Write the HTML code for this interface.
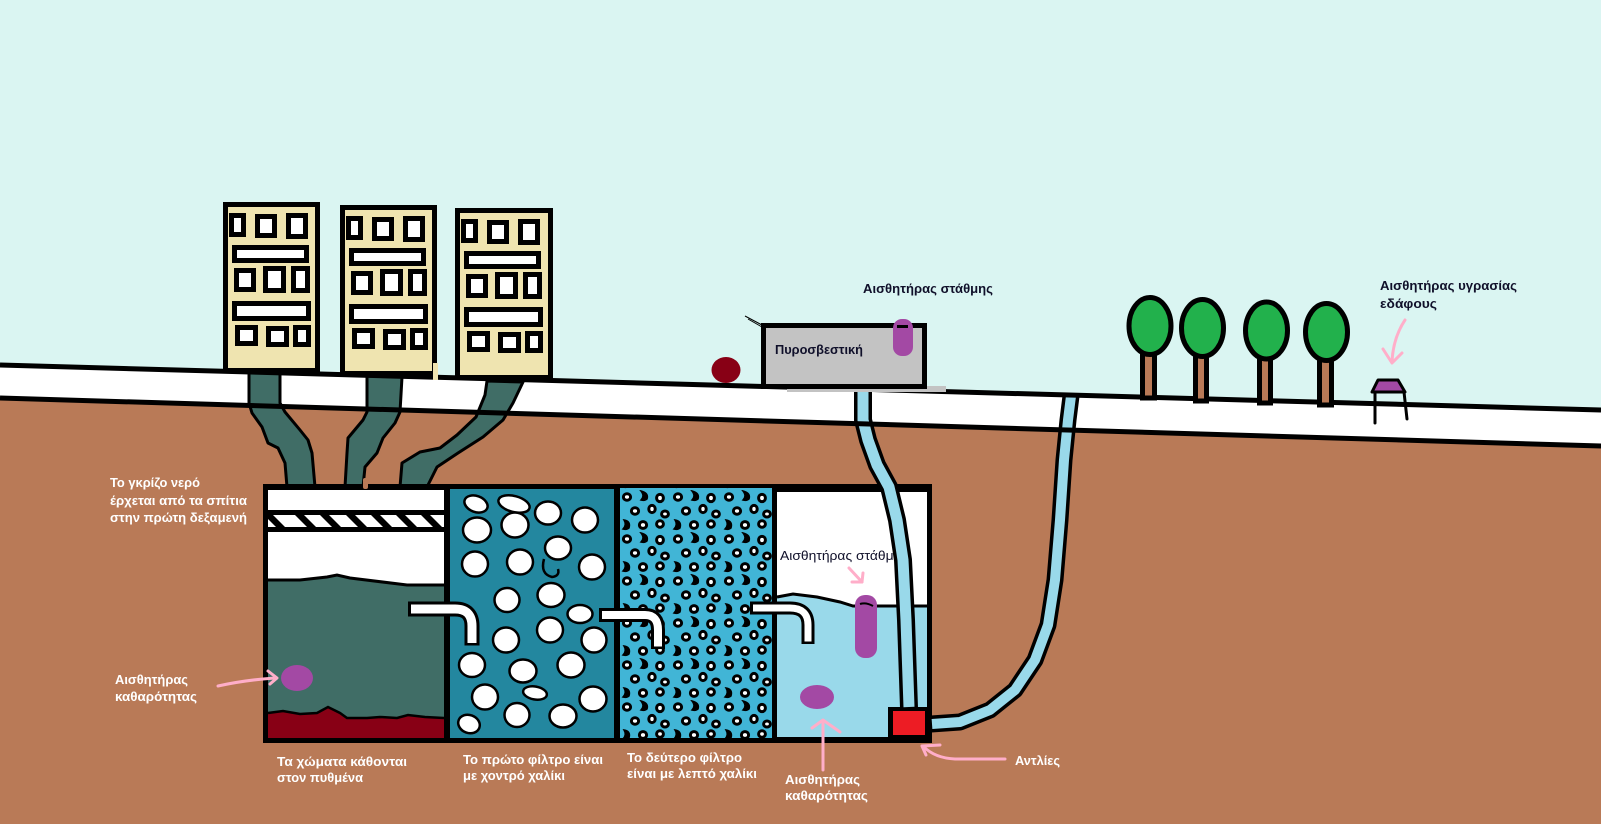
<!DOCTYPE html>
<html><head><meta charset="utf-8"><style>
html,body{margin:0;padding:0;background:#daf5f2;}
svg{display:block;}
text{font-family:"Liberation Sans","DejaVu Sans",sans-serif;font-size:13px;}
.w{fill:#ffffff;font-weight:bold;}
.k{fill:#10102a;font-weight:bold;}
.kn{fill:#10102a;}
</style></head><body>
<svg width="1601" height="824" viewBox="0 0 1601 824" xmlns="http://www.w3.org/2000/svg">
<defs>
<pattern id="fine" patternUnits="userSpaceOnUse" x="620" y="490" width="51" height="42">
  <g fill="#fff" stroke="#000" stroke-width="3">
    <ellipse cx="7" cy="7" rx="3.6" ry="3.2"/>
    <ellipse cx="40" cy="8" rx="3.4" ry="3.6"/>
    <ellipse cx="15" cy="21" rx="3.6" ry="3.2"/>
    <ellipse cx="32" cy="19" rx="3.2" ry="3.6"/>
    <ellipse cx="45" cy="24" rx="3.4" ry="3"/>
    <ellipse cx="23" cy="35" rx="3.6" ry="3.4"/>
    <ellipse cx="40" cy="34" rx="3.4" ry="3.2"/>
  </g>
  <g fill="#000" stroke="#000" stroke-width="1.5">
    <path d="M21,1 Q29,3 27,9 Q25,11 21,10 Q25,6 21,1Z"/>
    <path d="M4,30 Q11,31 9,38 Q7,40 3,39 Q7,35 4,30Z"/>
  </g>
</pattern>
</defs>

<!-- sky -->
<rect x="0" y="0" width="1601" height="824" fill="#daf5f2"/>
<!-- ground -->
<polygon points="0,398 1601,446 1601,824 0,824" fill="#b97a57"/>
<!-- road -->
<polygon points="0,365 1601,410 1601,446 0,398" fill="#ffffff"/>

<!-- building pipes -->
<g fill="#406d66" stroke="#000" stroke-width="3" stroke-linejoin="round">
  <path d="M249,372 L249,403 L252,413 L262,427 L268,443 L278,448 L285,463 L287,487 L315,487 L312,453 L308,440 L300,430 L285,412 L280,403 L280,372 Z"/>
  <path d="M367,376 L367,412 L363,420 L348,438 L347,453 L345,487 L363,487 L365,467 L377,453 L383,438 L395,423 L400,412 L402,377 Z"/>
  <path d="M487,381 L485,395 L476,417 L457,435 L440,448 L420,452 L402,463 L400,487 L427,487 L437,467 L458,453 L483,437 L503,420 L513,403 L523,382 Z"/>
</g>

<!-- tanks outer -->
<rect x="263" y="484" width="669" height="259" fill="#000"/>
<rect x="363" y="478" width="5" height="11" rx="2" fill="#b97a57"/>

<!-- tank 1 -->
<rect x="268" y="490" width="176" height="248" fill="#fff"/>
<rect x="268" y="510" width="176" height="5" fill="#000"/>
<rect x="268" y="527" width="176" height="5" fill="#000"/>
<g fill="#000">
  <polygon points="268,515 273,515 285,527 276,527 268,519"/>
  <polygon points="295,515 304,515 316,527 307,527"/>
  <polygon points="320,515 329,515 341,527 332,527"/>
  <polygon points="346,515 355,515 367,527 358,527"/>
  <polygon points="371,515 380,515 392,527 383,527"/>
  <polygon points="396,515 405,515 417,527 408,527"/>
  <polygon points="421,515 430,515 442,527 433,527"/>
</g>
<polygon points="268,580 300,580 327,577 337,575 350,578 407,585 444,585 444,738 268,738" fill="#406d66"/>
<polyline points="268,580 300,580 327,577 337,575 350,578 407,585 444,585" fill="none" stroke="#000" stroke-width="3"/>
<polygon points="268,713 283,711 300,714 317,713 328,707 340,713 347,718 367,718 380,717 397,718 408,715 425,717 444,718 444,738 268,738" fill="#880015"/>
<polyline points="268,713 283,711 300,714 317,713 328,707 340,713 347,718 367,718 380,717 397,718 408,715 425,717 444,718" fill="none" stroke="#000" stroke-width="2.5"/>
<ellipse cx="297" cy="678" rx="16" ry="13" fill="#a349a4"/>

<!-- tank 2 -->
<rect x="450" y="489" width="164" height="249" fill="#23879f"/>
<g fill="#fff" stroke="#000" stroke-width="2.5">
  <ellipse cx="476" cy="504" rx="12" ry="8" transform="rotate(20 476 504)"/>
  <ellipse cx="514" cy="504" rx="16" ry="8" transform="rotate(15 514 504)"/>
  <ellipse cx="548" cy="513" rx="13" ry="11.5"/>
  <ellipse cx="585" cy="520" rx="13" ry="12.5"/>
  <ellipse cx="477" cy="530" rx="14" ry="12.5"/>
  <ellipse cx="515" cy="525" rx="13.5" ry="12.5"/>
  <ellipse cx="558" cy="548" rx="13" ry="11.5"/>
  <ellipse cx="475" cy="564" rx="13" ry="12.5"/>
  <ellipse cx="520" cy="562" rx="13" ry="12.5"/>
  <ellipse cx="592" cy="567" rx="13" ry="12.5"/>
  <ellipse cx="551" cy="595" rx="13.5" ry="12"/>
  <ellipse cx="507" cy="600" rx="12.5" ry="12"/>
  <ellipse cx="580" cy="614" rx="12.5" ry="9"/>
  <ellipse cx="550" cy="630" rx="13" ry="12.5"/>
  <ellipse cx="506" cy="640" rx="13" ry="12.5"/>
  <ellipse cx="594" cy="640" rx="12.5" ry="12.5"/>
  <ellipse cx="472" cy="665" rx="13" ry="12"/>
  <ellipse cx="523" cy="671" rx="13.5" ry="11.5"/>
  <ellipse cx="571" cy="665" rx="13.5" ry="12.5"/>
  <ellipse cx="535" cy="693" rx="12" ry="6.5" transform="rotate(10 535 693)"/>
  <ellipse cx="485" cy="697" rx="13" ry="12.5"/>
  <ellipse cx="593" cy="699" rx="13.5" ry="12.5"/>
  <ellipse cx="517" cy="715" rx="12.5" ry="12"/>
  <ellipse cx="563" cy="716" rx="13.5" ry="11.5"/>
  <ellipse cx="469" cy="724" rx="11" ry="9" transform="rotate(20 469 724)"/>
</g>
<path d="M544,559 Q540,574 552,577 Q560,576 558,569" fill="none" stroke="#000" stroke-width="2.5"/>

<!-- tank 3 -->
<rect x="620" y="488" width="152" height="250" fill="#41b5d6"/>
<rect x="620" y="488" width="152" height="250" fill="url(#fine)"/>

<!-- tank 4 -->
<rect x="777" y="492" width="150" height="245" fill="#fff"/>
<polygon points="777,597 793,594 817,597 840,602 853,606 927,606 927,737 777,737" fill="#99d9ea"/>
<polyline points="777,597 793,594 817,597 840,602 853,606 927,606" fill="none" stroke="#000" stroke-width="3"/>
<rect x="855" y="595" width="22" height="63" rx="10" fill="#a349a4"/>
<path d="M860,604 Q866,602 873,606" fill="none" stroke="#000" stroke-width="2"/>
<ellipse cx="817" cy="697" rx="17" ry="12" fill="#a349a4"/>
<text class="kn" x="780" y="560" textLength="128" lengthAdjust="spacingAndGlyphs">Αισθητήρας στάθμης</text>

<!-- outlet pipes -->
<g fill="none" stroke-linecap="butt" stroke-linejoin="round">
  <path d="M408,609 L455,609 Q472,609 472,626 L472,645.5" stroke="#000" stroke-width="15"/>
  <path d="M411,609 L455,609 Q472,609 472,626 L472,643" stroke="#fff" stroke-width="9"/>
  <path d="M599,615 L645,615 Q658,615 658,630 L658,649" stroke="#000" stroke-width="14"/>
  <path d="M602,615 L645,615 Q658,615 658,630 L658,646.5" stroke="#fff" stroke-width="8"/>
  <path d="M750,608 L790,608 Q808,608 808,625 L808,644" stroke="#000" stroke-width="13"/>
  <path d="M753,608 L790,608 Q808,608 808,625 L808,641.5" stroke="#fff" stroke-width="7"/>
</g>

<!-- pump -->
<rect x="888" y="707" width="44" height="36" fill="#000"/>
<rect x="893" y="711" width="32" height="24" fill="#ed1c24"/>

<!-- fire station pipe -->
<g fill="none" stroke-linejoin="round">
  <path d="M863,386 L863,420 L868,440 L877,465 L889,487 L897,520 L903,560 L906,620 L909,708" stroke="#000" stroke-width="18"/>
  <path d="M863,386 L863,420 L868,440 L877,465 L889,487 L897,520 L903,560 L906,620 L909,707" stroke="#99d9ea" stroke-width="11"/>
  <path d="M931,724 L960,722 L990,710 L1015,690 L1035,660 L1048,625 L1055,580 L1060,520 L1064,460 L1068,420 L1071,396" stroke="#000" stroke-width="17"/>
  <path d="M932,724 L960,722 L990,710 L1015,690 L1035,660 L1048,625 L1055,580 L1060,520 L1064,460 L1068,420 L1071,396" stroke="#99d9ea" stroke-width="10"/>
</g>

<!-- road lines -->
<line x1="0" y1="365" x2="1601" y2="410" stroke="#000" stroke-width="5"/>
<line x1="0" y1="398" x2="1601" y2="446" stroke="#000" stroke-width="5"/>

<!-- buildings -->
<g id="b1" transform="translate(223,202)" stroke="#000" stroke-width="5">
  <rect x="2.5" y="2.5" width="92" height="166" fill="#efe4b0"/>
  <g fill="#fff">
    <rect x="8.5" y="13.5" width="12" height="19"/>
    <rect x="34.5" y="14.5" width="17" height="19"/>
    <rect x="65.5" y="13.5" width="17" height="21"/>
    <rect x="11.5" y="45.5" width="72" height="13"/>
    <rect x="13.5" y="68.5" width="17" height="19"/>
    <rect x="42.5" y="66.5" width="18" height="22"/>
    <rect x="70.5" y="66.5" width="14" height="22"/>
    <rect x="11.5" y="101.5" width="74" height="15"/>
    <rect x="14.5" y="125.5" width="18" height="16"/>
    <rect x="45.5" y="126.5" width="18" height="16"/>
    <rect x="72.5" y="125.5" width="13" height="17"/>
  </g>
</g>
<g transform="translate(340,205)" stroke="#000" stroke-width="5">
  <rect x="2.5" y="2.5" width="92" height="166" fill="#efe4b0"/>
  <g fill="#fff">
    <rect x="8.5" y="13.5" width="12" height="19"/>
    <rect x="34.5" y="14.5" width="17" height="19"/>
    <rect x="65.5" y="13.5" width="17" height="21"/>
    <rect x="11.5" y="45.5" width="72" height="13"/>
    <rect x="13.5" y="68.5" width="17" height="19"/>
    <rect x="42.5" y="66.5" width="18" height="22"/>
    <rect x="70.5" y="66.5" width="14" height="22"/>
    <rect x="11.5" y="101.5" width="74" height="15"/>
    <rect x="14.5" y="125.5" width="18" height="16"/>
    <rect x="45.5" y="126.5" width="18" height="16"/>
    <rect x="72.5" y="125.5" width="13" height="17"/>
  </g>
</g>
<g transform="translate(455,208)" stroke="#000" stroke-width="5">
  <rect x="2.5" y="2.5" width="93" height="167" fill="#efe4b0"/>
  <g fill="#fff">
    <rect x="8.5" y="13.5" width="12" height="19"/>
    <rect x="34.5" y="14.5" width="17" height="19"/>
    <rect x="65.5" y="13.5" width="17" height="21"/>
    <rect x="11.5" y="45.5" width="72" height="13"/>
    <rect x="13.5" y="68.5" width="17" height="19"/>
    <rect x="42.5" y="66.5" width="18" height="22"/>
    <rect x="70.5" y="66.5" width="14" height="22"/>
    <rect x="11.5" y="101.5" width="74" height="15"/>
    <rect x="14.5" y="125.5" width="18" height="16"/>
    <rect x="45.5" y="126.5" width="18" height="16"/>
    <rect x="72.5" y="125.5" width="13" height="17"/>
  </g>
</g>
<rect x="433" y="363" width="5" height="17" fill="#efe4b0"/>

<!-- fire station -->
<ellipse cx="726" cy="370" rx="14.5" ry="13" fill="#880015"/>
<line x1="745" y1="316" x2="762" y2="325" stroke="#000" stroke-width="1"/>
<line x1="748" y1="319" x2="762" y2="327" stroke="#000" stroke-width="1"/>
<rect x="787" y="386" width="159" height="6" fill="#c3c3c3"/>
<rect x="763.5" y="325.5" width="161" height="61" fill="#c3c3c3" stroke="#000" stroke-width="5"/>
<rect x="893" y="319" width="20" height="37" rx="9" fill="#a349a4"/>
<rect x="897" y="325" width="11" height="3" fill="#000"/>
<text class="k" x="775" y="354" textLength="88" lengthAdjust="spacingAndGlyphs">Πυροσβεστική</text>
<text class="k" x="863" y="293" textLength="130" lengthAdjust="spacingAndGlyphs">Αισθητήρας στάθμης</text>

<!-- trees -->
<g stroke="#000" stroke-width="5">
  <rect x="1142.5" y="354" width="12" height="44" fill="#b97a57"/>
  <rect x="1195.5" y="356" width="11" height="45" fill="#b97a57"/>
  <rect x="1259.5" y="358" width="11" height="45" fill="#b97a57"/>
  <rect x="1319.5" y="360" width="12" height="45" fill="#b97a57"/>
  <ellipse cx="1150" cy="326" rx="21" ry="28.5" fill="#22b14c"/>
  <ellipse cx="1202.5" cy="328" rx="21" ry="28.5" fill="#22b14c"/>
  <ellipse cx="1266.5" cy="330.5" rx="21" ry="28.5" fill="#22b14c"/>
  <ellipse cx="1326.5" cy="332" rx="21" ry="28.5" fill="#22b14c"/>
</g>

<!-- soil moisture sensor -->
<polygon points="1378,380 1398,380 1405,392 1372,392" fill="#a349a4" stroke="#000" stroke-width="3" stroke-linejoin="round"/>
<path d="M1375,392 L1375,423 M1404,392 L1407,419" stroke="#000" stroke-width="3" fill="none" stroke-linecap="round"/>
<text class="k" x="1380" y="290" textLength="137" lengthAdjust="spacingAndGlyphs">Αισθητήρας υγρασίας</text>
<text class="k" x="1380" y="308" textLength="57" lengthAdjust="spacingAndGlyphs">εδάφους</text>

<!-- pink arrows -->
<g fill="none" stroke="#ffaec9" stroke-width="3" stroke-linecap="round" stroke-linejoin="round">
  <path d="M1405,320 Q1393,338 1392,362"/>
  <path d="M1383,349 L1392,363 L1402,353"/>
  <path d="M218,686 Q245,680 275,678"/>
  <path d="M268,671 L277,678 L270,684"/>
  <path d="M849,568 L862,582"/>
  <path d="M863,573 L862,582 L852,582"/>
  <path d="M823,770 L823,721"/>
  <path d="M812,728 L823,720 L840,732"/>
  <path d="M1005,759 L955,759 Q935,758 924,747"/>
  <path d="M940,745 L922,746 L926,755"/>
</g>

<!-- white labels -->
<text class="w" x="110" y="487" textLength="90" lengthAdjust="spacingAndGlyphs">Το γκρίζο νερό</text>
<text class="w" x="110" y="505" textLength="137" lengthAdjust="spacingAndGlyphs">έρχεται από τα σπίτια</text>
<text class="w" x="110" y="522" textLength="137" lengthAdjust="spacingAndGlyphs">στην πρώτη δεξαμενή</text>
<text class="w" x="115" y="684" textLength="73" lengthAdjust="spacingAndGlyphs">Αισθητήρας</text>
<text class="w" x="115" y="701" textLength="82" lengthAdjust="spacingAndGlyphs">καθαρότητας</text>
<text class="w" x="277" y="766" textLength="130" lengthAdjust="spacingAndGlyphs">Τα χώματα κάθονται</text>
<text class="w" x="277" y="782" textLength="86" lengthAdjust="spacingAndGlyphs">στον πυθμένα</text>
<text class="w" x="463" y="764" textLength="140" lengthAdjust="spacingAndGlyphs">Το πρώτο φίλτρο είναι</text>
<text class="w" x="463" y="780" textLength="102" lengthAdjust="spacingAndGlyphs">με χοντρό χαλίκι</text>
<text class="w" x="627" y="762" textLength="115" lengthAdjust="spacingAndGlyphs">Το δεύτερο φίλτρο</text>
<text class="w" x="627" y="778" textLength="130" lengthAdjust="spacingAndGlyphs">είναι με λεπτό χαλίκι</text>
<text class="w" x="785" y="784" textLength="75" lengthAdjust="spacingAndGlyphs">Αισθητήρας</text>
<text class="w" x="785" y="800" textLength="83" lengthAdjust="spacingAndGlyphs">καθαρότητας</text>
<text class="w" x="1015" y="765" textLength="45" lengthAdjust="spacingAndGlyphs">Αντλίες</text>
</svg>
</body></html>
